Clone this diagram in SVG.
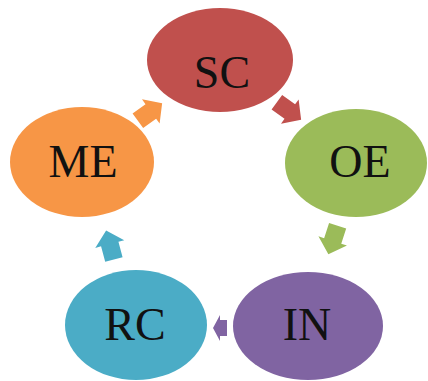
<svg xmlns="http://www.w3.org/2000/svg" width="428" height="381" viewBox="0 0 428 381">
<defs>
<style>
.lbl{font-family:"Liberation Serif","Times New Roman",serif;font-size:46px;fill:#111;text-anchor:middle}
</style>
<path id="arr" d="M-15,-9 L1,-9 L1,-15 L15,0 L1,15 L1,9 L-15,9 Z"/>
<path id="arrS" d="M-7,-8 L0,-8 L0,-13 L7,0 L0,13 L0,8 L-7,8 Z"/>
</defs>
<rect width="428" height="381" fill="#fff"/>
<g id="connectors">
<use href="#arr" fill="#C0504D" transform="translate(289,111) rotate(36)"/>
<use href="#arr" fill="#9BBB59" transform="translate(333,240) rotate(108)"/>
<use href="#arrS" fill="#8064A2" transform="translate(220,328) rotate(180)"/>
<use href="#arr" fill="#4BACC6" transform="translate(110,245) rotate(255)"/>
<use href="#arr" fill="#F79646" transform="translate(150,112) rotate(324)"/>
</g>
<g id="SC"><ellipse cx="220" cy="60" rx="73" ry="52" fill="#C0504D"/><text class="lbl" x="222" y="88">SC</text></g>
<g id="OE"><ellipse cx="356" cy="163" rx="71" ry="54" fill="#9BBB59"/><text class="lbl" x="360" y="177">OE</text></g>
<g id="IN"><ellipse cx="308" cy="326" rx="75" ry="54" fill="#8064A2"/><text class="lbl" x="307" y="340">IN</text></g>
<g id="RC"><ellipse cx="136" cy="325" rx="71" ry="55" fill="#4BACC6"/><text class="lbl" x="135" y="340">RC</text></g>
<g id="ME"><ellipse cx="82" cy="162" rx="72" ry="55" fill="#F79646"/><text class="lbl" x="83" y="177">ME</text></g>
</svg>
